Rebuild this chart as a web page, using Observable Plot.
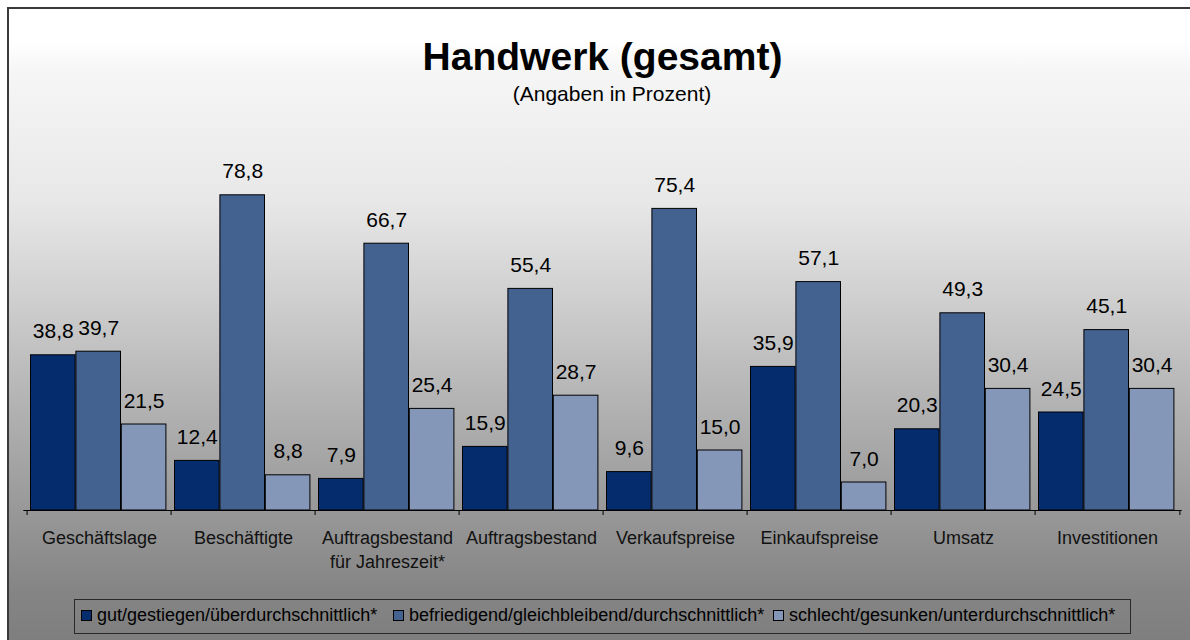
<!DOCTYPE html>
<html>
<head>
<meta charset="utf-8">
<script src="https://cdn.jsdelivr.net/npm/d3@7"></script>
<script src="https://cdn.jsdelivr.net/npm/@observablehq/plot@0.6"></script>
<style>
  html, body { margin: 0; padding: 0; }
  body { width: 1190px; height: 640px; overflow: hidden; position: relative; background: #fff;
         font-family: "Liberation Sans", Arial, sans-serif; color: #000; }
  #frame { position: absolute; left: 7px; top: 7px; width: 1200px; height: 650px;
           border-left: 2px solid #3a3a3a; border-top: 2px solid #3a3a3a;
           background: linear-gradient(to bottom, #ffffff 0px, #ffffff 33px, #f6f6f6 60px, #e8e8e8 190px,
             #cfcfcf 290px, #b4b4b4 390px, #9b9b9b 490px, #858585 580px, #7c7c7c 650px); }
  .title { position: absolute; left: 0; width: 1205px; top: 37px; text-align: center;
           font-size: 39px; line-height: 39px; font-weight: bold; white-space: nowrap; }
  .subtitle { position: absolute; left: 0; width: 1224px; top: 83px; text-align: center;
              font-size: 21px; line-height: 21px; white-space: nowrap; }
  #chart { position: absolute; left: 0; top: 130px; }
  #legend { position: absolute; left: 74px; top: 599px; width: 1057px; height: 35px;
            box-sizing: border-box; border: 1.5px solid #2a2a2a; }
  .item { position: absolute; top: 0; height: 100%; white-space: nowrap; font-size: 18px; }
  .sw { position: absolute; top: 10px; width: 11px; height: 11px; box-sizing: border-box;
        border: 1.3px solid #000; }
  .lab { position: absolute; top: 6px; left: 16px; line-height: 18px; }
</style>
</head>
<body>
<div id="frame"></div>
<div class="title">Handwerk (gesamt)</div>
<div class="subtitle">(Angaben in Prozent)</div>
<div id="chart"></div>
<div id="legend"></div>
<script>
// ---- data ----
const categories = ["Geschäftslage", "Beschäftigte", "Auftragsbestand für Jahreszeit*", "Auftragsbestand",
                    "Verkaufspreise", "Einkaufspreise", "Umsatz", "Investitionen"];
const categoryLabels = ["Geschäftslage", "Beschäftigte", "Auftragsbestand\nfür Jahreszeit*", "Auftragsbestand",
                        "Verkaufspreise", "Einkaufspreise", "Umsatz", "Investitionen"];
const seriesNames = ["gut/gestiegen/überdurchschnittlich*",
                     "befriedigend/gleichbleibend/durchschnittlich*",
                     "schlecht/gesunken/unterdurchschnittlich*"];
const gut      = [38.8, 12.4, 7.9, 15.9, 9.6, 35.9, 20.3, 24.5];
const befr     = [39.7, 78.8, 66.7, 55.4, 75.4, 57.1, 49.3, 45.1];
const schlecht = [21.5, 8.8, 25.4, 28.7, 15.0, 7.0, 30.4, 30.4];
const seriesColors = ["#052d6e", "#43628f", "#8597b9"];

const seriesValues = [gut, befr, schlecht];
const rows = categories.flatMap((c, i) => seriesValues.map((vals, j) => ({cat: c, s: j, v: vals[i]})));
const labelOf = new Map(categories.map((c, i) => [c, categoryLabels[i]]));
const fmt = v => d3.format(".1f")(v).replace(".", ",");

// ---- layout ----
const W = 1190, H = 450, mL = 23.3, mR = 8.3, mT = 20, mB = 70;
const step = (W - mL - mR) / categories.length;
const pad = 3.5, bw = 45.4;

const marks = [];
seriesValues.forEach((vals, j) => {
  const data = rows.filter(r => r.s === j);
  marks.push(Plot.barY(data, {
    x: "cat", y: "v", fill: seriesColors[j], stroke: "#000", strokeWidth: 1,
    insetLeft: pad + j * bw, insetRight: step - pad - (j + 1) * bw
  }));
  marks.push(Plot.text(data, {
    x: "cat", y: "v", text: d => fmt(d.v), lineAnchor: "bottom",
    dx: pad + (j + 0.5) * bw - step / 2, dy: -17, fontSize: 21, fill: "#000"
  }));
});
marks.push(Plot.ruleY([0], {stroke: "#000", strokeWidth: 1}));
marks.push(Plot.ruleX(categories, {x: d => d, y1: 0, y2: -1.25, dx: -step / 2, stroke: "#000"}));
marks.push(Plot.ruleX([categories[categories.length - 1]], {x: d => d, y1: 0, y2: -1.25, dx: step / 2, stroke: "#000"}));
marks.push(Plot.text(categories, {
  x: d => d, y: 0, text: d => labelOf.get(d), lineAnchor: "top", dy: 17,
  fontSize: 18, lineHeight: 1.33, fill: "#111"
}));

const chart = Plot.plot({
  width: W, height: H,
  marginLeft: mL, marginRight: mR, marginTop: mT, marginBottom: mB,
  style: {background: "transparent", fontFamily: "'Liberation Sans', Arial, sans-serif", overflow: "visible", color: "#000"},
  x: {type: "band", domain: categories, padding: 0, axis: null},
  y: {domain: [0, 90], axis: null},
  marks
});
document.getElementById("chart").appendChild(chart);

// ---- legend ----
const legend = document.getElementById("legend");
const itemLeft = [6, 318, 698];
seriesNames.forEach((name, j) => {
  const it = document.createElement("div");
  it.className = "item";
  it.style.left = itemLeft[j] + "px";
  it.innerHTML = `<div class="sw" style="background:${seriesColors[j]}"></div><div class="lab">${name}</div>`;
  legend.appendChild(it);
});
</script>
</body>
</html>
